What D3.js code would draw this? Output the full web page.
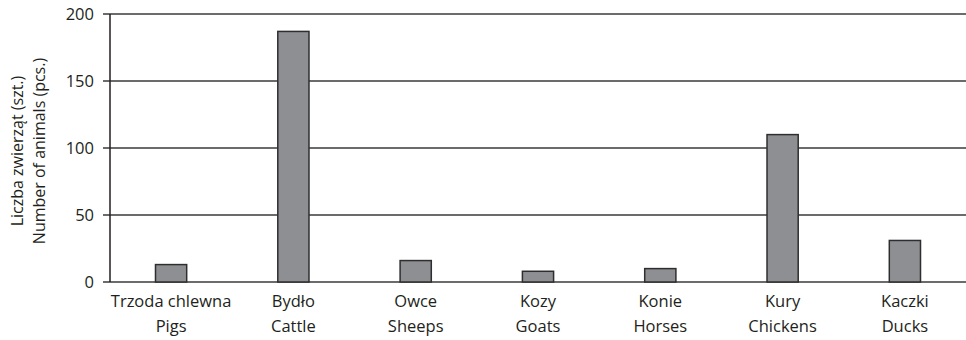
<!DOCTYPE html>
<html><head><meta charset="utf-8">
<script src="https://cdn.jsdelivr.net/npm/d3@7"></script>
<style>body{margin:0;background:#fff}svg{display:block}text{font-family:"Open Sans",sans-serif;fill:#231f20}</style>
</head><body><svg id="c" width="966" height="340"></svg>
<script>
const categoriesPL = ["Trzoda chlewna","Bydło","Owce","Kozy","Konie","Kury","Kaczki"];
const categoriesEN = ["Pigs","Cattle","Sheeps","Goats","Horses","Chickens","Ducks"];
const values = [13, 187, 16, 8, 10, 110, 31];
const yTicks = [0, 50, 100, 150, 200];
const yTitle = ["Liczba zwierząt (szt.)", "Number of animals (pcs.)"];

const svg = d3.select("#c");
const m = {l:110, r:0, t:14, b:58};
const W = 966, H = 340;
const x = d3.scaleBand().domain(d3.range(values.length)).range([m.l, W - m.r]).paddingInner(0.745).paddingOuter(0.372);
const y = d3.scaleLinear().domain([0, 200]).range([H - m.b, m.t]);

// gridlines
svg.append("g").selectAll("line").data(yTicks).join("line")
  .attr("x1", m.l - 7).attr("x2", W).attr("y1", d => y(d)).attr("y2", d => y(d))
  .attr("stroke", "#3a3a3a").attr("stroke-width", 1.5);
// axis line
svg.append("line").attr("x1", m.l).attr("x2", m.l).attr("y1", y(200)).attr("y2", y(0))
  .attr("stroke", "#231f20").attr("stroke-width", 1.5);
// tick labels
svg.append("g").selectAll("text").data(yTicks).join("text")
  .attr("x", m.l - 16).attr("y", d => y(d)).attr("dy", "0.35em").attr("text-anchor", "end")
  .attr("font-size", 16.5).text(d => d);
// bars
svg.append("g").selectAll("rect").data(values).join("rect")
  .attr("x", (d,i) => x(i)).attr("width", x.bandwidth())
  .attr("y", d => y(d)).attr("height", d => y(0) - y(d))
  .attr("fill", "#8e8f93").attr("stroke", "#2e2e2e").attr("stroke-width", 1.5);
// x labels
const xl = svg.append("g").selectAll("text").data(values).join("text")
  .attr("text-anchor", "middle").attr("font-size", 16.5);
xl.append("tspan").attr("x", (d,i) => x(i) + x.bandwidth()/2).attr("y", 307).text((d,i) => categoriesPL[i]);
xl.append("tspan").attr("x", (d,i) => x(i) + x.bandwidth()/2).attr("y", 332).text((d,i) => categoriesEN[i]);
// y title
const yt = svg.append("text").attr("transform", `translate(0,151) rotate(-90)`)
  .attr("text-anchor", "middle").attr("font-size", 16);
yt.append("tspan").attr("x", 0).attr("y", 23).text(yTitle[0]);
yt.append("tspan").attr("x", 0).attr("y", 45).text(yTitle[1]);
</script></body></html>
